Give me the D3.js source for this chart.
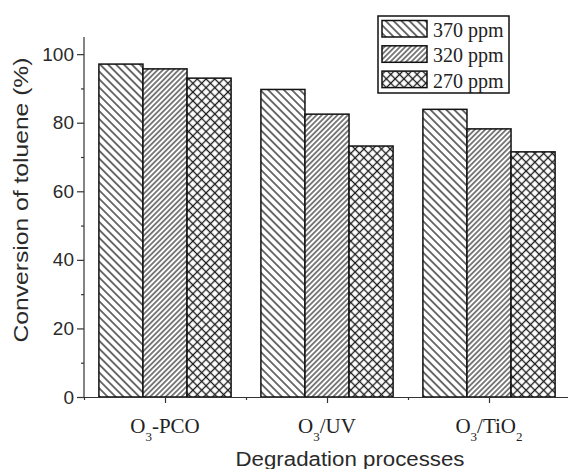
<!DOCTYPE html>
<html>
<head>
<meta charset="utf-8">
<script src="https://cdn.jsdelivr.net/npm/d3@7"></script>
<style>
  body { margin: 0; background: #fff; }
  svg { display: block; }
</style>
</head>
<body>
<svg width="568" height="469"></svg>
<script>
// chart data
const categories = ['O3-PCO', 'O3/UV', 'O3/TiO2'];
const series = ['370 ppm', '320 ppm', '270 ppm'];
const values370 = [97.1, 89.7, 83.9];
const values320 = [95.7, 82.5, 78.2];
const values270 = [93.0, 73.2, 71.5];
const yMajorTicks = [0, 20, 40, 60, 80, 100];
const yMinorTicks = [10, 30, 50, 70, 90];

const svg = d3.select('svg');
const plotLeft = 84, plotRight = 570, plotTop = 37, plotBottom = 397;

const xScale = d3.scaleLinear().domain([0.5, 3.5]).range([plotLeft, plotRight]);
const yScale = d3.scaleLinear().domain([0, 105]).range([plotBottom, plotTop]);
const inner = d3.scaleBand().domain(series).range([-0.408, 0.408]);

const rows = categories.map((c, i) => ({
  cat: c, idx: i + 1,
  vals: [values370[i], values320[i], values270[i]]
}));

// hatch patterns
const defs = svg.append('defs');
function hatch(id, spacing, width, angles) {
  const p = defs.append('pattern')
    .attr('id', id)
    .attr('patternUnits', 'userSpaceOnUse')
    .attr('width', spacing).attr('height', spacing)
    .attr('patternTransform', `rotate(${angles[0]})`);
  p.append('rect').attr('width', spacing).attr('height', spacing).attr('fill', '#fff');
  p.append('line').attr('x1', spacing / 2).attr('x2', spacing / 2)
    .attr('y1', 0).attr('y2', spacing)
    .attr('stroke', '#1a1a1a').attr('stroke-width', width);
  if (angles.length > 1) {
    p.append('line').attr('y1', spacing / 2).attr('y2', spacing / 2)
      .attr('x1', 0).attr('x2', spacing)
      .attr('stroke', '#1a1a1a').attr('stroke-width', width);
  }
}
hatch('p370', 5.6, 1.25, [-45]);
hatch('p320', 3.7, 1.1, [45]);
hatch('p270', 6.2, 1.3, [45, -45]);
const fills = ['url(#p370)', 'url(#p320)', 'url(#p270)'];

// bars
const groups = svg.append('g').selectAll('g')
  .data(rows).join('g');

groups.selectAll('rect')
  .data(d => d.vals.map((v, j) => ({ idx: d.idx, s: series[j], v: v, j: j })))
  .join('rect')
  .attr('x', d => xScale(d.idx + inner(d.s)))
  .attr('width', d => xScale(d.idx + inner(d.s) + inner.bandwidth()) - xScale(d.idx + inner(d.s)))
  .attr('y', d => yScale(d.v))
  .attr('height', d => yScale(0) - yScale(d.v))
  .attr('fill', d => fills[d.j])
  .attr('stroke', '#111')
  .attr('stroke-width', 1.5);

// axes
const axisColor = '#333';
const yAxis = svg.append('g').attr('transform', `translate(${plotLeft},0)`)
  .call(d3.axisLeft(yScale).tickValues(yMajorTicks).tickSize(7).tickPadding(3).tickSizeOuter(0));
svg.append('g').attr('transform', `translate(${plotLeft},0)`)
  .call(d3.axisLeft(yScale).tickValues(yMinorTicks).tickSize(3).tickFormat('').tickSizeOuter(0))
  .select('.domain').remove();
yAxis.select('.domain').attr('d', `M0,${plotTop}V${plotBottom}`);

const xAxis = svg.append('g').attr('transform', `translate(0,${plotBottom})`)
  .call(d3.axisBottom(xScale).tickValues([1, 2, 3]).tickSize(6).tickFormat('').tickSizeOuter(0));
svg.append('g').attr('transform', `translate(0,${plotBottom})`)
  .call(d3.axisBottom(xScale).tickValues([0.5, 1.5, 2.5]).tickSize(3).tickFormat('').tickSizeOuter(0))
  .select('.domain').remove();

svg.selectAll('.domain, .tick line').attr('stroke', axisColor).attr('stroke-width', 1.2);
yAxis.selectAll('.tick text')
  .attr('font-family', 'Liberation Sans, Arial, sans-serif')
  .attr('font-size', 19)
  .attr('fill', '#2a2a2a');

// category labels with subscripts
const catLabels = svg.append('g').selectAll('text')
  .data(rows).join('text')
  .attr('x', d => xScale(d.idx))
  .attr('y', 433)
  .attr('text-anchor', 'middle')
  .attr('font-family', 'Liberation Serif, Times New Roman, serif')
  .attr('font-size', 21)
  .attr('fill', '#222');
catLabels.each(function(d) {
  const t = d3.select(this);
  let shift = 0;
  d.cat.split(/(\d)/).filter(s => s.length).forEach(part => {
    if (/^\d$/.test(part)) {
      t.append('tspan').attr('font-size', 13).attr('dy', 8).text(part);
      shift = -8;
    } else {
      t.append('tspan').attr('dy', shift).text(part);
      shift = 0;
    }
  });
});

// axis titles
svg.append('text')
  .attr('x', 350).attr('y', 466)
  .attr('text-anchor', 'middle')
  .attr('font-family', 'Liberation Sans, Arial, sans-serif')
  .attr('font-size', 20)
  .attr('textLength', 229).attr('lengthAdjust', 'spacingAndGlyphs')
  .attr('fill', '#2a2a2a')
  .text('Degradation processes');

svg.append('text')
  .attr('transform', 'translate(28,200) rotate(-90)')
  .attr('text-anchor', 'middle')
  .attr('font-family', 'Liberation Sans, Arial, sans-serif')
  .attr('font-size', 20)
  .attr('textLength', 285).attr('lengthAdjust', 'spacingAndGlyphs')
  .attr('fill', '#2a2a2a')
  .text('Conversion of toluene (%)');

// legend
const legend = svg.append('g');
legend.append('rect')
  .attr('x', 378).attr('y', 16).attr('width', 131).attr('height', 77)
  .attr('fill', '#fff').attr('stroke', '#111').attr('stroke-width', 1.5);
const items = legend.selectAll('g.item').data(series).join('g')
  .attr('class', 'item')
  .attr('transform', (d, i) => `translate(382,${37 + i * 25.3})`);
items.append('rect')
  .attr('x', 0).attr('y', -16.5).attr('width', 45).attr('height', 16.5)
  .attr('fill', (d, i) => fills[i])
  .attr('stroke', '#111').attr('stroke-width', 1.5);
items.append('text')
  .attr('x', 51).attr('y', 0)
  .attr('font-family', 'Liberation Serif, Times New Roman, serif')
  .attr('font-size', 20)
  .attr('fill', '#222')
  .text(d => d);
</script>
</body>
</html>
